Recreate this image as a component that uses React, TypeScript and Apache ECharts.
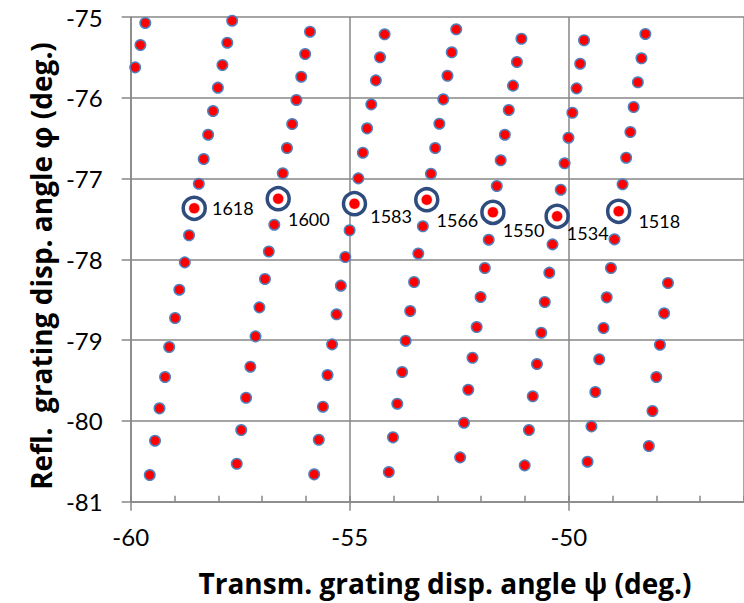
import React, { useEffect, useRef } from "react";
import * as echarts from "echarts";

// Each curve: [psi (deg), phi (deg)] points
const curveLeft = [
  [-59.667, -75.074], [-59.778, -75.347], [-59.898, -75.623],
];
const curve1618 = [
  [-57.684, -75.046], [-57.795, -75.318], [-57.906, -75.594], [-58.010, -75.875],
  [-58.121, -76.164], [-58.232, -76.457], [-58.334, -76.758], [-58.445, -77.064],
  [-58.550, -77.368], [-58.668, -77.702], [-58.765, -78.037], [-58.890, -78.376],
  [-58.987, -78.726], [-59.121, -79.085], [-59.216, -79.457], [-59.343, -79.844],
  [-59.445, -80.245], [-59.565, -80.670],
];
const curve1600 = [
  [-55.907, -75.182], [-56.018, -75.458], [-56.107, -75.739], [-56.218, -76.027],
  [-56.314, -76.325], [-56.433, -76.622], [-56.529, -76.935], [-56.633, -77.249],
  [-56.722, -77.571], [-56.847, -77.903], [-56.935, -78.243], [-57.062, -78.594],
  [-57.151, -78.953], [-57.268, -79.329], [-57.366, -79.713], [-57.477, -80.113],
  [-57.579, -80.530],
];
const curve1583 = [
  [-54.204, -75.214], [-54.308, -75.499], [-54.404, -75.784], [-54.508, -76.081],
  [-54.604, -76.378], [-54.701, -76.680], [-54.803, -76.997], [-54.892, -77.311],
  [-55.003, -77.640], [-55.101, -77.971], [-55.203, -78.326], [-55.301, -78.680],
  [-55.403, -79.052], [-55.507, -79.432], [-55.612, -79.824], [-55.707, -80.233],
  [-55.812, -80.661],
];
const curve1566 = [
  [-52.569, -75.152], [-52.672, -75.437], [-52.769, -75.727], [-52.865, -76.019],
  [-52.954, -76.321], [-53.049, -76.622], [-53.147, -76.940], [-53.242, -77.262],
  [-53.331, -77.591], [-53.435, -77.928], [-53.531, -78.281], [-53.620, -78.640],
  [-53.724, -79.007], [-53.804, -79.395], [-53.915, -79.787], [-54.013, -80.203],
  [-54.108, -80.633],
];
const curve1550 = [
  [-51.081, -75.269], [-51.184, -75.557], [-51.273, -75.850], [-51.370, -76.151],
  [-51.459, -76.457], [-51.554, -76.774], [-51.643, -77.092], [-51.732, -77.418],
  [-51.828, -77.757], [-51.916, -78.107], [-52.014, -78.466], [-52.103, -78.838],
  [-52.198, -79.218], [-52.294, -79.614], [-52.392, -80.022], [-52.480, -80.451],
];
const curve1534 = [
  [-49.651, -75.288], [-49.740, -75.578], [-49.822, -75.883], [-49.918, -76.185],
  [-50.007, -76.494], [-50.095, -76.811], [-50.184, -77.138], [-50.266, -77.467],
  [-50.371, -77.814], [-50.444, -78.165], [-50.548, -78.528], [-50.628, -78.908],
  [-50.726, -79.296], [-50.822, -79.695], [-50.910, -80.113], [-51.006, -80.550],
];
const curve1518 = [
  [-48.252, -75.210], [-48.341, -75.511], [-48.423, -75.808], [-48.519, -76.114],
  [-48.594, -76.424], [-48.690, -76.742], [-48.772, -77.071], [-48.861, -77.405],
  [-48.956, -77.752], [-49.038, -78.107], [-49.134, -78.470], [-49.207, -78.850],
  [-49.305, -79.237], [-49.394, -79.642], [-49.482, -80.067], [-49.571, -80.505],
];
const curveRight = [
  [-47.735, -78.293], [-47.823, -78.668], [-47.919, -79.057], [-48.001, -79.457],
  [-48.090, -79.877], [-48.172, -80.311],
];

const allCurves = [curveLeft, curve1618, curve1600, curve1583, curve1566, curve1550, curve1534, curve1518, curveRight];

// Circled (labelled) points: which curve, which point index, label
const markedCurves = [curve1618, curve1600, curve1583, curve1566, curve1550, curve1534, curve1518];
const markedIndex = [8, 7, 7, 7, 7, 7, 7];
const markedLabels = ["1618", "1600", "1583", "1566", "1550", "1534", "1518"];

// Axis settings
const xMin = -60;
const xMax = -46;
const xMajor = 5;
const yMin = -81;
const yMax = -75;
const yStep = 1;

const xTitle = "Transm. grating disp. angle ψ (deg.)";
const yTitle = "Refl.  grating disp. angle φ (deg.)";

// label placement offsets (style, not data)
const labelOffsets = [[5, 0], [-3, 20], [3, 12], [-3, 20], [-3, 18], [-3, 17], [7, 10]];

const FONT = "Lato";
const TITLE_FONT = "'Open Sans'";
const GRID_COLOR = "#878787";

export default function App() {
  const ref = useRef<HTMLDivElement>(null);

  useEffect(() => {
    if (!ref.current) return;
    const chart = echarts.init(ref.current, null, { renderer: "svg" });

    const markedPoints = markedCurves.map((c, i) => c[markedIndex[i]]);

    const option: any = {
      animation: false,
      backgroundColor: "#ffffff",
      textStyle: { fontFamily: FONT },
      grid: { left: 130.7, top: 17, width: 630.4, height: 484.7, containLabel: false },
      xAxis: [
        {
          type: "value",
          min: xMin,
          max: xMax,
          interval: xMajor,
          position: "bottom",
          axisLine: { show: true, onZero: false, lineStyle: { color: GRID_COLOR, width: 1.5 } },
          axisTick: { show: true, inside: false, length: 9, lineStyle: { color: GRID_COLOR, width: 1.5 } },
          splitLine: { show: true, lineStyle: { color: GRID_COLOR, width: 1.5 } },
          axisLabel: {
            show: true,
            fontSize: 24,
            color: "#000",
            margin: 23,
            fontFamily: FONT,
            showMaxLabel: false,
          },
        },
        {
          type: "value",
          min: xMin,
          max: xMax,
          interval: 1,
          position: "bottom",
          axisLine: { show: false },
          axisTick: { show: true, inside: true, length: 6, lineStyle: { color: GRID_COLOR, width: 1.5 } },
          splitLine: { show: false },
          axisLabel: { show: false },
        },
      ],
      yAxis: {
        type: "value",
        min: yMin,
        max: yMax,
        interval: yStep,
        axisLine: { show: true, onZero: false, lineStyle: { color: GRID_COLOR, width: 1.5 } },
        axisTick: { show: true, inside: false, length: 9, lineStyle: { color: GRID_COLOR, width: 1.5 } },
        splitLine: { show: true, lineStyle: { color: GRID_COLOR, width: 1.5 } },
        axisLabel: { fontSize: 24, color: "#000", margin: 28, fontFamily: FONT },
      },
      graphic: [
        {
          type: "text",
          x: 445,
          y: 583,
          style: {
            text: xTitle,
            fill: "#000",
            font: `bold 28px ${TITLE_FONT}`,
            textAlign: "center",
            textVerticalAlign: "middle",
          },
        },
        {
          type: "text",
          x: 41,
          y: 266,
          rotation: Math.PI / 2,
          style: {
            text: yTitle,
            fill: "#000",
            font: `bold 28px ${TITLE_FONT}`,
            textAlign: "center",
            textVerticalAlign: "middle",
          },
        },
      ],
      series: [
        ...allCurves.map((c) => ({
          type: "scatter",
          xAxisIndex: 0,
          data: c,
          symbol: "circle",
          symbolSize: 10.5,
          z: 2,
          itemStyle: { color: "#FF0000", borderColor: "#4F81BD", borderWidth: 1.5, opacity: 1 },
          emphasis: { disabled: true },
        })),
        {
          type: "scatter",
          xAxisIndex: 0,
          symbol: "circle",
          symbolSize: 22,
          z: 3,
          itemStyle: { color: "#FFFFFF", borderColor: "#2E4C7E", borderWidth: 3.5, opacity: 1 },
          emphasis: { disabled: true },
          data: markedPoints.map((p, i) => ({
            value: p,
            label: {
              show: true,
              position: "right",
              distance: 0,
              offset: labelOffsets[i],
              formatter: markedLabels[i],
              fontSize: 18,
              color: "#000",
              fontFamily: FONT,
            },
          })),
        },
        {
          type: "scatter",
          xAxisIndex: 0,
          symbol: "circle",
          symbolSize: 11,
          z: 4,
          itemStyle: { color: "#FF0000", borderColor: "#FFFFFF", borderWidth: 0.5, opacity: 1 },
          emphasis: { disabled: true },
          data: markedPoints,
        },
      ],
    };

    chart.setOption(option);
    return () => chart.dispose();
  }, []);

  return (
    <div
      ref={ref}
      style={{ position: "fixed", left: 0, top: 0, width: 744, height: 603, background: "#fff" }}
    />
  );
}
